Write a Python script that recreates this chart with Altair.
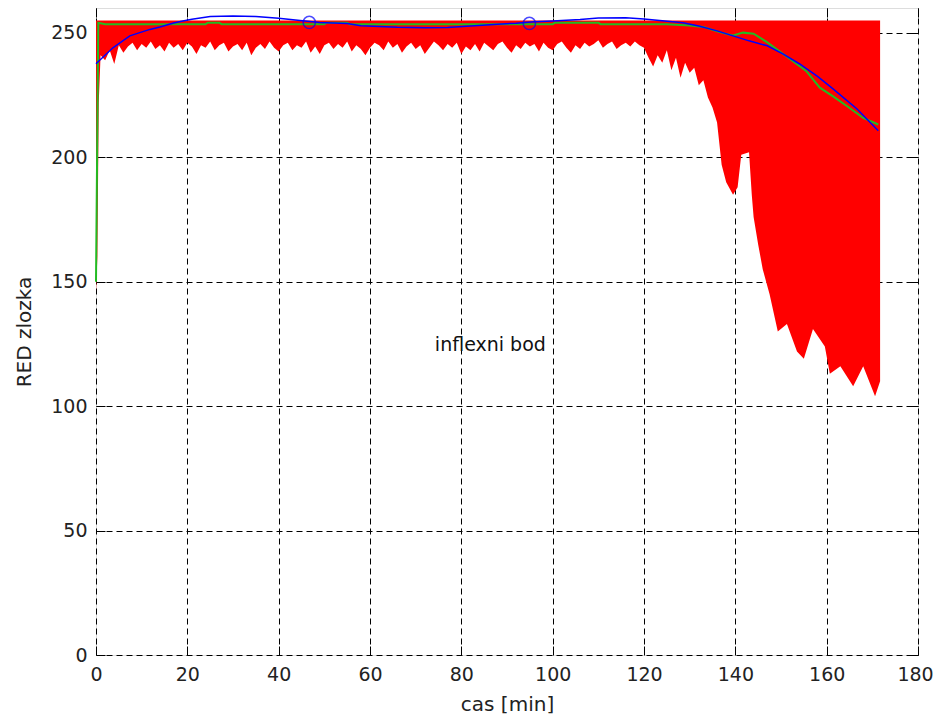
import altair as alt
import pandas as pd

# ---- data ----
mid_low = [241, 239, 243, 237.5, 245, 242, 244.5, 246, 243, 245.5, 244, 246.5, 243.5, 245, 242.5,
           246, 244, 245.5, 243, 246, 244.5, 241.5, 245, 244, 246.5, 243, 245, 246, 242.5, 244.5,
           245.5, 243, 246, 241, 244, 245.5, 243.5, 246.5, 244, 242.5, 245, 246, 243, 245, 244,
           246.5, 242, 244.5, 241.5, 245, 246, 243.5, 245.5, 244, 246.5, 242.5, 245, 243.5, 241, 244,
           246, 245, 243, 246.5, 244, 245.5, 242, 244.5, 246, 243.5, 245, 241.5, 244, 246.5, 245,
           243, 245.5, 244, 246, 241.5, 244.5, 243, 245.5, 242.5, 246, 244.5, 243, 245.5, 246.5, 244,
           242, 245, 243.5, 246, 244.5, 245.5, 242.5, 246, 244, 243, 245.5, 246.5, 244, 242, 245,
           243.5, 246, 244.5, 245.5, 247, 244, 245.5, 246.5, 243.5, 245, 246, 244.5, 246.5, 245, 244]
mid_t = list(range(1, 121))

start_t = [0, 0.3, 0.6]
start_low = [146, 160, 222]

drop_t = [121, 122, 123, 124, 125, 126, 127, 128, 129, 130, 131, 132, 133, 134, 135, 136,
          137, 138, 139.5, 140.5, 141.3, 143, 143.6, 144, 145, 146, 147.5, 149.3, 151.3,
          153.5, 155, 157, 159.6, 160.7, 163, 165.8, 168, 170.6, 171.7]
drop_low = [240, 236.5, 241, 238, 243, 235, 240, 232, 238, 234, 236, 229, 231, 224, 220, 214,
            197, 190, 185, 188, 201, 202, 185, 176, 165, 155, 145, 130, 133,
            122, 119, 131, 124, 113, 116, 108, 116, 104, 110]

env_high = 255

green_t = [0, 0.5, 2, 24, 24.5, 27, 27.5, 50, 50.5, 55, 55.5, 100, 100.5, 110, 110.5, 125,
           130, 133, 136, 138, 139.5, 141.7, 144, 147, 151, 155.5, 158.5, 161.4, 164.5, 168, 171.3]
green_v = [150, 254.1, 253.5, 253.5, 254.1, 254.1, 253.5, 253.5, 254.1, 254.1, 253.5, 253.5, 254.1,
           254.1, 253.5, 253.5, 253, 252.4, 250.6, 249.6, 249, 250.1, 249.7, 246.2, 240.8, 234.7,
           228, 224.5, 220.5, 215.8, 213.2]

blue_t = [0, 3.7, 7.4, 11.8, 14, 17, 19, 21, 25, 30, 35, 40, 44.7, 49, 55, 58, 62, 66, 72, 77,
          82, 88, 92, 96, 100, 106, 110, 116, 120, 124, 128.5, 132, 136, 139.5, 143, 147, 150.5,
          154, 158, 161.4, 164, 166.6, 169, 171.3]
blue_v = [237.6, 244, 248.8, 251.4, 252.4, 254, 254.8, 255.5, 256.6, 256.8, 256.6, 255.9, 255,
          254.2, 253.8, 252.9, 252.6, 252.3, 252.1, 252.2, 252.8, 253.5, 253.9, 254.5, 254.8,
          255.4, 256, 256.1, 255.6, 254.9, 254.1, 252.8, 250.8, 248.8, 246.8, 244.8, 241.5,
          237.6, 232.5, 227.5, 223.5, 219.5, 215, 210.7]

circ_t = [46.7, 94.9]
circ_v = [254.2, 253.8]

note_t = [74.2]
note_v = [124.5]
note_txt = ["inflexni bod"]

x_ticks = [0, 20, 40, 60, 80, 100, 120, 140, 160, 180]
y_ticks = [0, 50, 100, 150, 200, 250]

FONT = "DejaVu Sans"

env_t = start_t + mid_t + drop_t
env_low = start_low + mid_low + drop_low
env_df = pd.DataFrame({"t": env_t, "low": env_low, "high": [env_high] * len(env_t)})
green_df = pd.DataFrame({"t": green_t, "v": green_v})
blue_df = pd.DataFrame({"t": blue_t, "v": blue_v})
circ_df = pd.DataFrame({"t": circ_t, "v": circ_v})
note_df = pd.DataFrame({"t": note_t, "v": note_v, "txt": note_txt})

xs = alt.Scale(domain=[0, 180], nice=False, zero=False)
ys = alt.Scale(domain=[0, 260], nice=False, zero=False)

grid_common = dict(grid=True, gridColor="black", gridDash=[6, 4], gridWidth=1, gridOpacity=1,
                    domain=False, tickSize=0, labelFont=FONT, labelFontSize=19, labelFlush=False,
                    labelColor="#222222", titleFont=FONT, titleFontSize=20,
                    titleFontWeight="normal", titleColor="#222222")

x_main = alt.Axis(values=x_ticks, orient="bottom", title="cas [min]", labelPadding=10,
                  titlePadding=10,
                  labelOffset={"condition": {"test": "datum.value == 180", "value": -3}, "value": 0},
                  **grid_common)
y_main = alt.Axis(values=y_ticks, orient="left", title="RED zlozka", labelPadding=9,
                  titlePadding=16, **grid_common)

def tick_axis(values, orient):
    return alt.Axis(values=values, orient=orient, offset=-9, tickSize=9, tickColor="black",
                    tickWidth=1, labels=False, grid=False, domain=False, title=None)

area = alt.Chart(env_df).mark_area(color="#ff0000", opacity=1).encode(
    x=alt.X("t:Q", scale=xs, axis=x_main),
    y=alt.Y("low:Q", scale=ys, axis=y_main),
    y2="high:Q",
)

green = alt.Chart(green_df).mark_line(color="#22bb22", strokeWidth=2).encode(
    x=alt.X("t:Q", scale=xs, axis=tick_axis(x_ticks, "bottom")),
    y=alt.Y("v:Q", scale=ys, axis=tick_axis(y_ticks, "left")),
    order="t:Q",
)

blue = alt.Chart(blue_df).mark_line(color="#0000ff", strokeWidth=1.5).encode(
    x=alt.X("t:Q", scale=xs, axis=tick_axis(x_ticks, "top")),
    y=alt.Y("v:Q", scale=ys, axis=tick_axis(y_ticks, "right")),
    order="t:Q",
)

circles = alt.Chart(circ_df).mark_point(shape="circle", filled=False, color="#0000ff",
                                        size=150, strokeWidth=1.5).encode(
    x=alt.X("t:Q", scale=xs, axis=None),
    y=alt.Y("v:Q", scale=ys, axis=None),
)

note = alt.Chart(note_df).mark_text(align="left", baseline="middle", font=FONT,
                                    fontSize=19, color="#111111").encode(
    x=alt.X("t:Q", scale=xs, axis=None),
    y=alt.Y("v:Q", scale=ys, axis=None),
    text="txt:N",
)

chart = alt.layer(area, green, blue, circles, note).resolve_axis(
    x="independent", y="independent"
).properties(
    width=822, height=647,
    autosize=alt.AutoSizeParams(type="none"),
    padding={"left": 88, "top": 0, "right": 15, "bottom": 66},
).configure_view(stroke="black", strokeWidth=1).configure(background="white")

chart.save("out.html", embed_options={"renderer": "svg", "actions": False})
